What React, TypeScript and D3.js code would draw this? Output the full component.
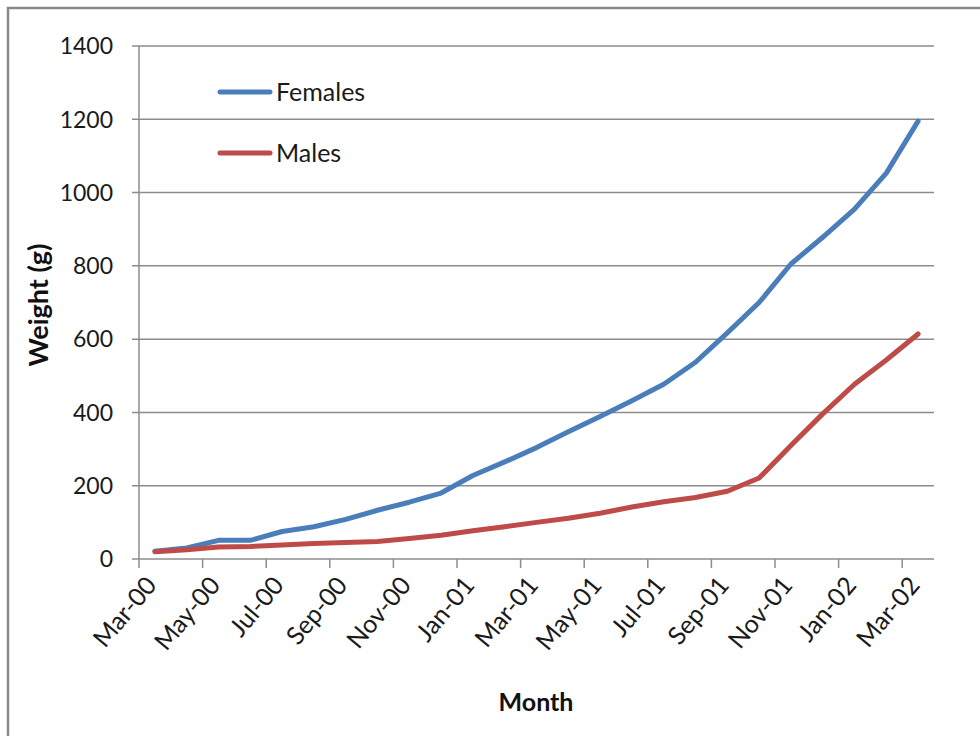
import React from "react";
import * as d3 from "d3";

// Monthly categories on the x axis
const months = [
  "Mar-00", "Apr-00", "May-00", "Jun-00", "Jul-00", "Aug-00", "Sep-00", "Oct-00",
  "Nov-00", "Dec-00", "Jan-01", "Feb-01", "Mar-01", "Apr-01", "May-01", "Jun-01",
  "Jul-01", "Aug-01", "Sep-01", "Oct-01", "Nov-01", "Dec-01", "Jan-02", "Feb-02", "Mar-02",
];

// Mean weight (g) per month
const females = [21, 30, 51, 51, 75, 88, 108, 133, 155, 180, 228, 265, 304, 347, 389, 432, 477, 537, 617, 700, 805, 878, 955, 1053, 1195];
const males = [20, 25, 33, 34, 38, 42, 45, 48, 56, 65, 77, 88, 100, 111, 125, 142, 156, 168, 185, 221, 310, 396, 477, 543, 614];

const yTicks = [0, 200, 400, 600, 800, 1000, 1200, 1400];

const series = [
  { name: "Females", values: females, color: "#4A7EBB" },
  { name: "Males", values: males, color: "#BE4B48" },
];

const W = 980;
const H = 736;
const FONT = "Lato, 'Open Sans', sans-serif";

export default function App() {
  const x = d3.scaleBand<string>().domain(months).range([139, 934]).padding(0);
  const y = d3.scaleLinear().domain([0, 1400]).range([559, 46]);
  const cx = (m: string) => (x(m) as number) + x.bandwidth() / 2;

  const line = d3
    .line<number>()
    .x((_, i) => cx(months[i]))
    .y((d) => y(d));

  const labelled = months.filter((_, i) => i % 2 === 0);
  const [x0, x1] = x.range();

  return (
    <svg
      width={W}
      height={H}
      style={{ position: "absolute", left: 0, top: 0, background: "#fff" }}
      fontFamily={FONT}
    >
      {/* outer chart frame */}
      <rect x={8} y={8} width={1000} height={800} fill="#fff" stroke="#8a8a8a" strokeWidth={2.5} />

      {/* gridlines */}
      {yTicks.map((t) => (
        <line key={"g" + t} x1={x0 - 7} x2={x1} y1={y(t)} y2={y(t)} stroke="#8c8c8c" strokeWidth={1.5} />
      ))}

      {/* y axis */}
      <line x1={x0} x2={x0} y1={y(1400)} y2={y(0)} stroke="#8c8c8c" strokeWidth={1.5} />
      {yTicks.map((t) => (
        <text key={"yl" + t} x={113} y={y(t)} dy="0.36em" textAnchor="end" fontSize={23} fill="#1a1a1a">
          {t}
        </text>
      ))}

      {/* x axis ticks and labels */}
      {labelled.map((m) => (
        <line key={"x" + m} x1={x(m)} x2={x(m)} y1={y(0)} y2={y(0) + 9} stroke="#8c8c8c" strokeWidth={1.5} />
      ))}
      {labelled.map((m) => {
        const px = cx(m) + 3;
        const py = 586;
        return (
          <text
            key={"xl" + m}
            x={px}
            y={py}
            textAnchor="end"
            fontSize={25}
            fill="#1a1a1a"
            transform={`rotate(-50 ${px} ${py})`}
          >
            {m}
          </text>
        );
      })}

      {/* series lines */}
      {series.map((s) => (
        <path
          key={s.name}
          d={line(s.values) as string}
          fill="none"
          stroke={s.color}
          strokeWidth={5}
          strokeLinejoin="round"
          strokeLinecap="round"
        />
      ))}

      {/* legend */}
      {series.map((s, i) => (
        <g key={"lg" + s.name}>
          <line x1={220} x2={270} y1={92 + i * 61} y2={92 + i * 61} stroke={s.color} strokeWidth={5} strokeLinecap="round" />
          <text x={276} y={101 + i * 61} fontSize={25} fill="#1a1a1a">
            {s.name}
          </text>
        </g>
      ))}

      {/* axis titles */}
      <text x={536} y={711} textAnchor="middle" fontSize={25} fontWeight="bold" fill="#111">
        Month
      </text>
      <text
        x={48}
        y={305}
        textAnchor="middle"
        fontSize={27}
        fontWeight="bold"
        fill="#111"
        transform="rotate(-90 48 305)"
      >
        Weight (g)
      </text>
    </svg>
  );
}
